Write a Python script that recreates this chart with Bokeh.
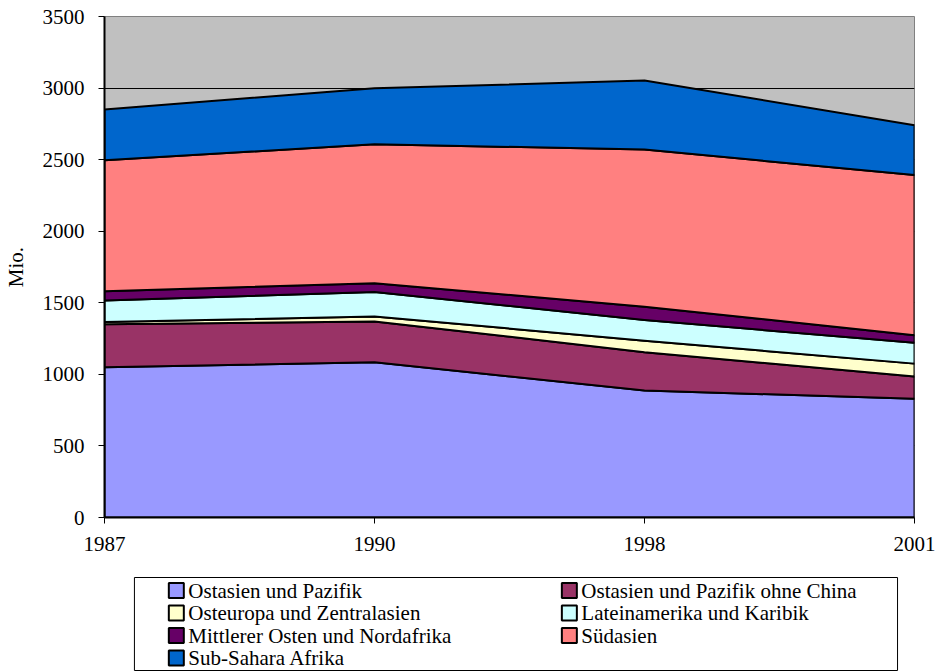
from bokeh.plotting import figure
from bokeh.models import Range1d, FixedTicker, ColumnDataSource
from bokeh.layouts import column
from bokeh.core.properties import value
from bokeh.embed import file_html
from bokeh.resources import INLINE
import numpy as np

years = ["1987", "1990", "1998", "2001"]
series_names = [
    "Ostasien und Pazifik",
    "Ostasien und Pazifik ohne China",
    "Osteuropa und Zentralasien",
    "Lateinamerika und Karibik",
    "Mittlerer Osten und Nordafrika",
    "Südasien",
    "Sub-Sahara Afrika",
]
ostasien = [1050, 1085, 887, 830]
ostasien_ohne_china = [300, 285, 268, 155]
osteuropa = [15, 35, 80, 90]
lateinamerika = [151, 170, 145, 145]
mittlerer_osten = [65, 62, 93, 54]
suedasien = [914, 970, 1098, 1118]
subsahara = [356, 391, 482, 349]
colors = ["#9999FF", "#993366", "#FFFFCC", "#CCFFFF", "#660066", "#FF8080", "#0066CC"]
yticks = [0, 500, 1000, 1500, 2000, 2500, 3000, 3500]

series = [ostasien, ostasien_ohne_china, osteuropa, lateinamerika,
          mittlerer_osten, suedasien, subsahara]

FONT = "Liberation Serif"
FS = "21px"
BL, BR = 102, 26  # shared left/right borders so both frames line up

# ---------------- main chart ----------------
p = figure(width=940, height=570, output_backend="svg", toolbar_location=None,
           x_range=Range1d(0, len(years) - 1), y_range=Range1d(0, 3500),
           min_border_left=BL, min_border_right=BR, min_border_top=16,
           min_border_bottom=53)
p.background_fill_color = "#C0C0C0"
p.border_fill_color = "white"
p.outline_line_color = "#808080"
p.outline_line_width = 1

xs = list(range(len(years)))
bottom = np.zeros(len(years))
for name, vals, col in zip(series_names, series, colors):
    top = bottom + np.array(vals, dtype=float)
    px = xs + xs[::-1]
    py = list(top) + list(bottom[::-1])
    p.patch(px, py, fill_color=col, line_color="black", line_width=2,
            line_join="round")
    bottom = top

p.xgrid.visible = False
p.ygrid.ticker = FixedTicker(ticks=yticks)
p.ygrid.grid_line_color = "black"
p.ygrid.grid_line_width = 1

p.yaxis.ticker = FixedTicker(ticks=yticks)
p.xaxis.ticker = FixedTicker(ticks=xs)
p.xaxis.major_label_overrides = {i: y for i, y in enumerate(years)}
for ax in (p.xaxis, p.yaxis):
    ax.axis_line_color = "black"
    ax.axis_line_width = 2
    ax.major_tick_line_color = "black"
    ax.major_tick_line_width = 1
    ax.major_tick_in = 0
    ax.major_tick_out = 6
    ax.minor_tick_line_color = None
    ax.major_label_text_font = FONT
    ax.major_label_text_font_size = FS
    ax.major_label_text_color = "black"
p.yaxis.major_label_standoff = 14
p.xaxis.major_label_standoff = 13
p.yaxis.axis_label = "Mio."
p.yaxis.axis_label_text_font = FONT
p.yaxis.axis_label_text_font_size = FS
p.yaxis.axis_label_text_font_style = "normal"
p.yaxis.axis_label_text_color = "black"
p.yaxis.axis_label_standoff = 12

# ---------------- legend (second figure, same frame width) ----------------
fw = 940 - BL - BR
fh = 102
leg = figure(width=940, height=fh, output_backend="svg", toolbar_location=None,
             x_range=Range1d(0, fw), y_range=Range1d(fh, 0),
             x_axis_type=None, y_axis_type=None,
             min_border_left=BL, min_border_right=BR, min_border_top=0,
             min_border_bottom=0)
leg.grid.visible = False
leg.outline_line_color = None
leg.background_fill_color = "white"
leg.border_fill_color = "white"

# legend frame box
leg.quad(left=[30], right=[795], top=[7], bottom=[100], fill_color="white",
         line_color="black", line_width=1)

col_sq_x = [72, 466]
row_y0, row_dy = 20, 22.5
sq_x, sq_y, txt_x, cols_ = [], [], [], []
for i, name in enumerate(series_names):
    r, c = divmod(i, 2)
    sq_x.append(col_sq_x[c])
    sq_y.append(row_y0 + r * row_dy)
    txt_x.append(col_sq_x[c] + 12)
    cols_.append(colors[i])
src = ColumnDataSource(dict(sx=sq_x, sy=sq_y, tx=txt_x, name=series_names, color=cols_))
leg.scatter(x="sx", y="sy", marker="square", size=15, fill_color="color",
            line_color="black", line_width=2, source=src)
leg.text(x="tx", y="sy", text="name", text_font=value(FONT), text_font_size=FS,
         text_baseline="middle", text_align="left", text_color="black", source=src)

layout = column(p, leg, spacing=0)
open("out.html", "w").write(file_html(layout, INLINE))
